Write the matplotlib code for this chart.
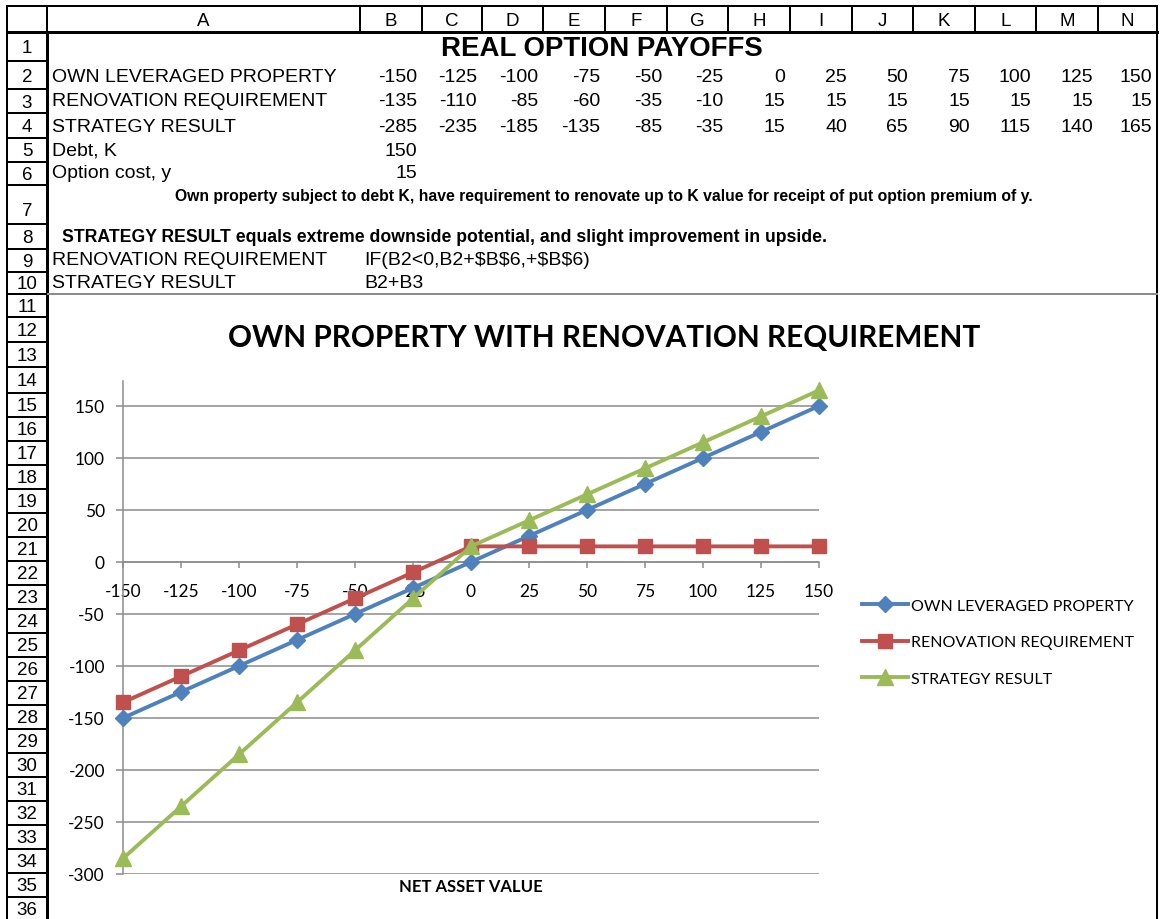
import matplotlib
matplotlib.use("Agg")
import matplotlib.pyplot as plt

W, H = 1161, 920

# spreadsheet / chart values
net_asset_value = [-150, -125, -100, -75, -50, -25, 0, 25, 50, 75, 100, 125, 150]
own_leveraged = [-150, -125, -100, -75, -50, -25, 0, 25, 50, 75, 100, 125, 150]
renovation = [-135, -110, -85, -60, -35, -10, 15, 15, 15, 15, 15, 15, 15]
strategy = [-285, -235, -185, -135, -85, -35, 15, 40, 65, 90, 115, 140, 165]
debt_k = 150
option_cost = 15
series_names = ["OWN LEVERAGED PROPERTY", "RENOVATION REQUIREMENT", "STRATEGY RESULT"]
col_letters = list("ABCDEFGHIJKLMN")
y_ticks = [-300, -250, -200, -150, -100, -50, 0, 50, 100, 150]

# sheet geometry in pixels
col_edges = [47, 360, 422, 482, 543, 605, 667, 728, 790, 852, 913, 975, 1036, 1098, 1157]
row_edges = [33, 62, 90, 114, 139, 163, 186, 225, 250, 273, 295, 318, 343, 368, 394] + [418 + 24 * i for i in range(22)]

SHEET_FONT = "Liberation Sans"
plt.rcParams["font.family"] = ["Lato", "DejaVu Sans"]
plt.rcParams["axes.unicode_minus"] = False
px = 0.72  # 1 px in points at dpi 100

fig = plt.figure(figsize=(W / 100, H / 100), dpi=100)
sheet = fig.add_axes([0, 0, 1, 1])
sheet.set_xlim(0, W)
sheet.set_ylim(H, 0)
sheet.axis("off")

# column header row
sheet.plot([7, 1157], [7, 7], color="black", lw=2 * px)
sheet.plot([7, 1157], [33, 33], color="black", lw=3 * px)
for x in [7] + col_edges:
    sheet.plot([x, x], [7, 33], color="black", lw=2 * px)
for i, letter in enumerate(col_letters):
    sheet.text((col_edges[i] + col_edges[i + 1]) / 2, 21, letter, ha="center", va="center",
               fontsize=13.5, family=SHEET_FONT)

# row number column
sheet.plot([7, 7], [7, H], color="black", lw=2 * px)
sheet.plot([47, 47], [33, H], color="black", lw=3 * px)
for y in row_edges:
    sheet.plot([7, 47], [y, y], color="black", lw=2 * px)
for r in range(len(row_edges) - 1):
    top, bottom = row_edges[r], row_edges[r + 1]
    if bottom - top > 30:
        ly = bottom - 13
    else:
        ly = (top + bottom) / 2 + 1
    sheet.text(27, ly, str(r + 1), ha="center", va="center", fontsize=13.5, family=SHEET_FONT)

# right edge of the window
sheet.plot([1157, 1157], [7, H], color="black", lw=2 * px)


def cell(x, y, s, ha="left", size=14, weight="normal"):
    sheet.text(x, y, s, ha=ha, va="center", fontsize=size, weight=weight, family=SHEET_FONT,
               parse_math=False)


cell(602, 49, "REAL OPTION PAYOFFS", ha="center", size=19.9, weight="bold")
row_y = [77, 102, 127]
for name, vals, y in zip(series_names, [own_leveraged, renovation, strategy], row_y):
    cell(52, y, name)
    for j, v in enumerate(vals):
        cell(col_edges[j + 2] - 5, y, str(v), ha="right")
cell(52, 151, "Debt, K")
cell(col_edges[2] - 5, 151, str(debt_k), ha="right")
cell(52, 174, "Option cost, y")
cell(col_edges[2] - 5, 174, str(option_cost), ha="right")
cell(604, 197, "Own property subject to debt K, have requirement to renovate up to K value "
               "for receipt of put option premium of y.", ha="center", size=11.3, weight="bold")
cell(62, 238, "STRATEGY RESULT equals extreme downside potential, and slight improvement in upside.",
     size=12.7, weight="bold")
cell(52, 261, "RENOVATION REQUIREMENT")
cell(364, 261, "IF(B2<0,B2+$B$6,+$B$6)")
cell(52, 284, "STRATEGY RESULT")
cell(364, 284, "B2+B3")

# chart border line under row 10
sheet.plot([48, 1157], [295, 295], color="#8c8c8c", lw=2 * px)

# chart
GRID = "#8c8c8c"
ax = fig.add_axes([123 / W, 1 - 875 / H, 696 / W, 493 / H])
ax.set_xlim(-150, 150)
ax.set_ylim(-300, 174)

colors = ["#4F81BD", "#C0504D", "#9BBB59"]
markers = ["D", "s", "^"]
sizes = [8.5, 10, 11]
for vals, name, c, m, s in zip([own_leveraged, renovation, strategy], series_names, colors, markers, sizes):
    ax.plot(net_asset_value, vals, color=c, marker=m, ms=s, lw=2.8, label=name, clip_on=False, zorder=3)

ax.set_axisbelow(True)
ax.yaxis.grid(True, color=GRID, lw=1.1)
for side in ["top", "right"]:
    ax.spines[side].set_visible(False)
ax.spines["left"].set_color(GRID)
ax.spines["left"].set_linewidth(1.1)
ax.spines["bottom"].set_position(("data", 0))
ax.spines["bottom"].set_color(GRID)
ax.spines["bottom"].set_linewidth(1.1)

ax.set_xticks(net_asset_value)
ax.set_yticks(y_ticks)
ax.tick_params(axis="x", direction="out", length=4, width=1.1, color=GRID, labelsize=12.5, pad=11)
ax.tick_params(axis="y", direction="out", length=5, width=1.1, color=GRID, labelsize=12.5, pad=8)

ax.legend(loc="center left", bbox_to_anchor=(862 / W, 1 - 643 / H), bbox_transform=fig.transFigure,
          frameon=False, borderpad=0, borderaxespad=0, handlelength=2.9, handletextpad=0.15,
          labelspacing=1.4, fontsize=11.5, numpoints=1)

fig.text(604 / W, 1 - 338 / H, "OWN PROPERTY WITH RENOVATION REQUIREMENT", ha="center", va="center",
         fontsize=21.4, weight="bold")
fig.text(471 / W, 1 - 887 / H, "NET ASSET VALUE", ha="center", va="center", fontsize=12, weight="bold")

fig.savefig("out.png", dpi=100)
